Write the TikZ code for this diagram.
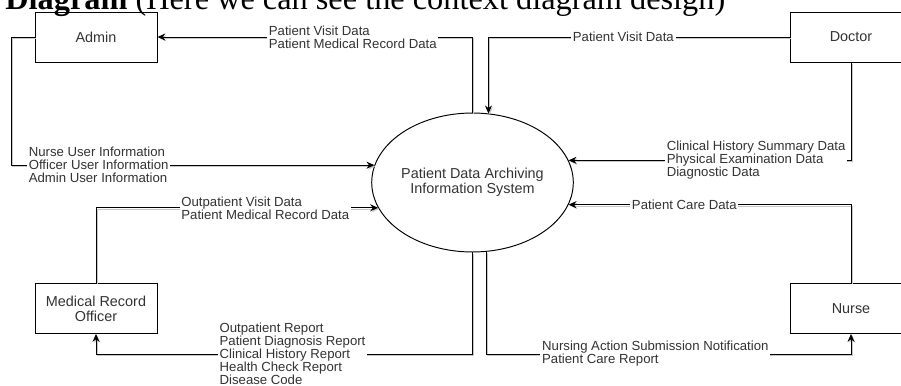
\documentclass[tikz,border=0pt]{standalone}
\usepackage{fontspec}
\setmainfont{Liberation Sans}
\newfontfamily\headfont{Liberation Serif}
\usetikzlibrary{shapes.geometric,arrows.meta}

\tikzset{
  entity/.style={draw,line width=0.55pt,minimum width=2.44cm,minimum height=1cm,align=center,font=\fontsize{8.2}{8.5}\selectfont,text=black!80},
  process/.style={draw,line width=0.55pt,ellipse,minimum width=3.42cm,minimum height=2.78cm,inner sep=0pt,align=center,font=\fontsize{8.2}{8.5}\selectfont,text=black!80},
  flow/.style={line width=0.55pt,-{Stealth[length=4.5pt,width=4pt]},preaction={draw=black!22,transform canvas={xshift=0.7pt,yshift=-0.7pt}}},
  flowlabel/.style={fill=white,inner sep=1pt,align=left,font=\fontsize{7.5}{7.4}\selectfont,text=black!80}
}

\begin{document}
\begin{tikzpicture}[x=0.02cm,y=-0.02cm]
  \useasboundingbox (0,0) rectangle (901,385);
  \clip (0,0) rectangle (901,385);

  \node[anchor=base west,inner sep=0pt,font=\headfont\fontsize{18.4}{18.4}\selectfont] (heading) at (5,10) {\textbf{Diagram} (Here we can see the context diagram design)};

  \node[process] (sys) at (472.5,182.5) {Patient Data Archiving\\Information System};
  \node[entity] (admin) at (96,37) {Admin};
  \node[entity] (doctor) at (851,37) {Doctor};
  \node[entity] (officer) at (96,308.5) {Medical Record\\Officer};
  \node[entity] (nurse) at (851,308.5) {Nurse};
  \coordinate (bus) at (0,354);

  \draw[flow] (sys.north) |- node[flowlabel,pos=0.69] {Patient Visit Data\\Patient Medical Record Data} (admin.east);
  \draw[flow] (doctor.west) -| node[flowlabel,pos=0.276] {Patient Visit Data} (sys.77);
  \draw[flow] (admin.west) -- ++(-23,0) |- node[flowlabel,pos=0.62] {Nurse User Information\\Officer User Information\\Admin User Information} (sys.170);
  \draw[flow] (officer.north) |- node[flowlabel,pos=0.80] {Outpatient Visit Data\\Patient Medical Record Data} (sys.195);

  \draw[flow] (doctor.south) |- node[flowlabel,pos=0.668] {Clinical History Summary Data\\Physical Examination Data\\Diagnostic Data} (sys.13);
  \draw[flow] (nurse.north) |- node[flowlabel,pos=0.795] {Patient Care Data} (sys.347);

  \draw[flow] (sys.south) -- (sys.south |- bus) -| node[flowlabel,pos=0.239] {Outpatient Report\\Patient Diagnosis Report\\Clinical History Report\\Health Check Report\\Disease Code} (officer.south);
  \draw[flow] (sys.281) -- (sys.281 |- bus) -| node[flowlabel,pos=0.232] {Nursing Action Submission Notification\\Patient Care Report} (nurse.south);
\end{tikzpicture}
\end{document}
